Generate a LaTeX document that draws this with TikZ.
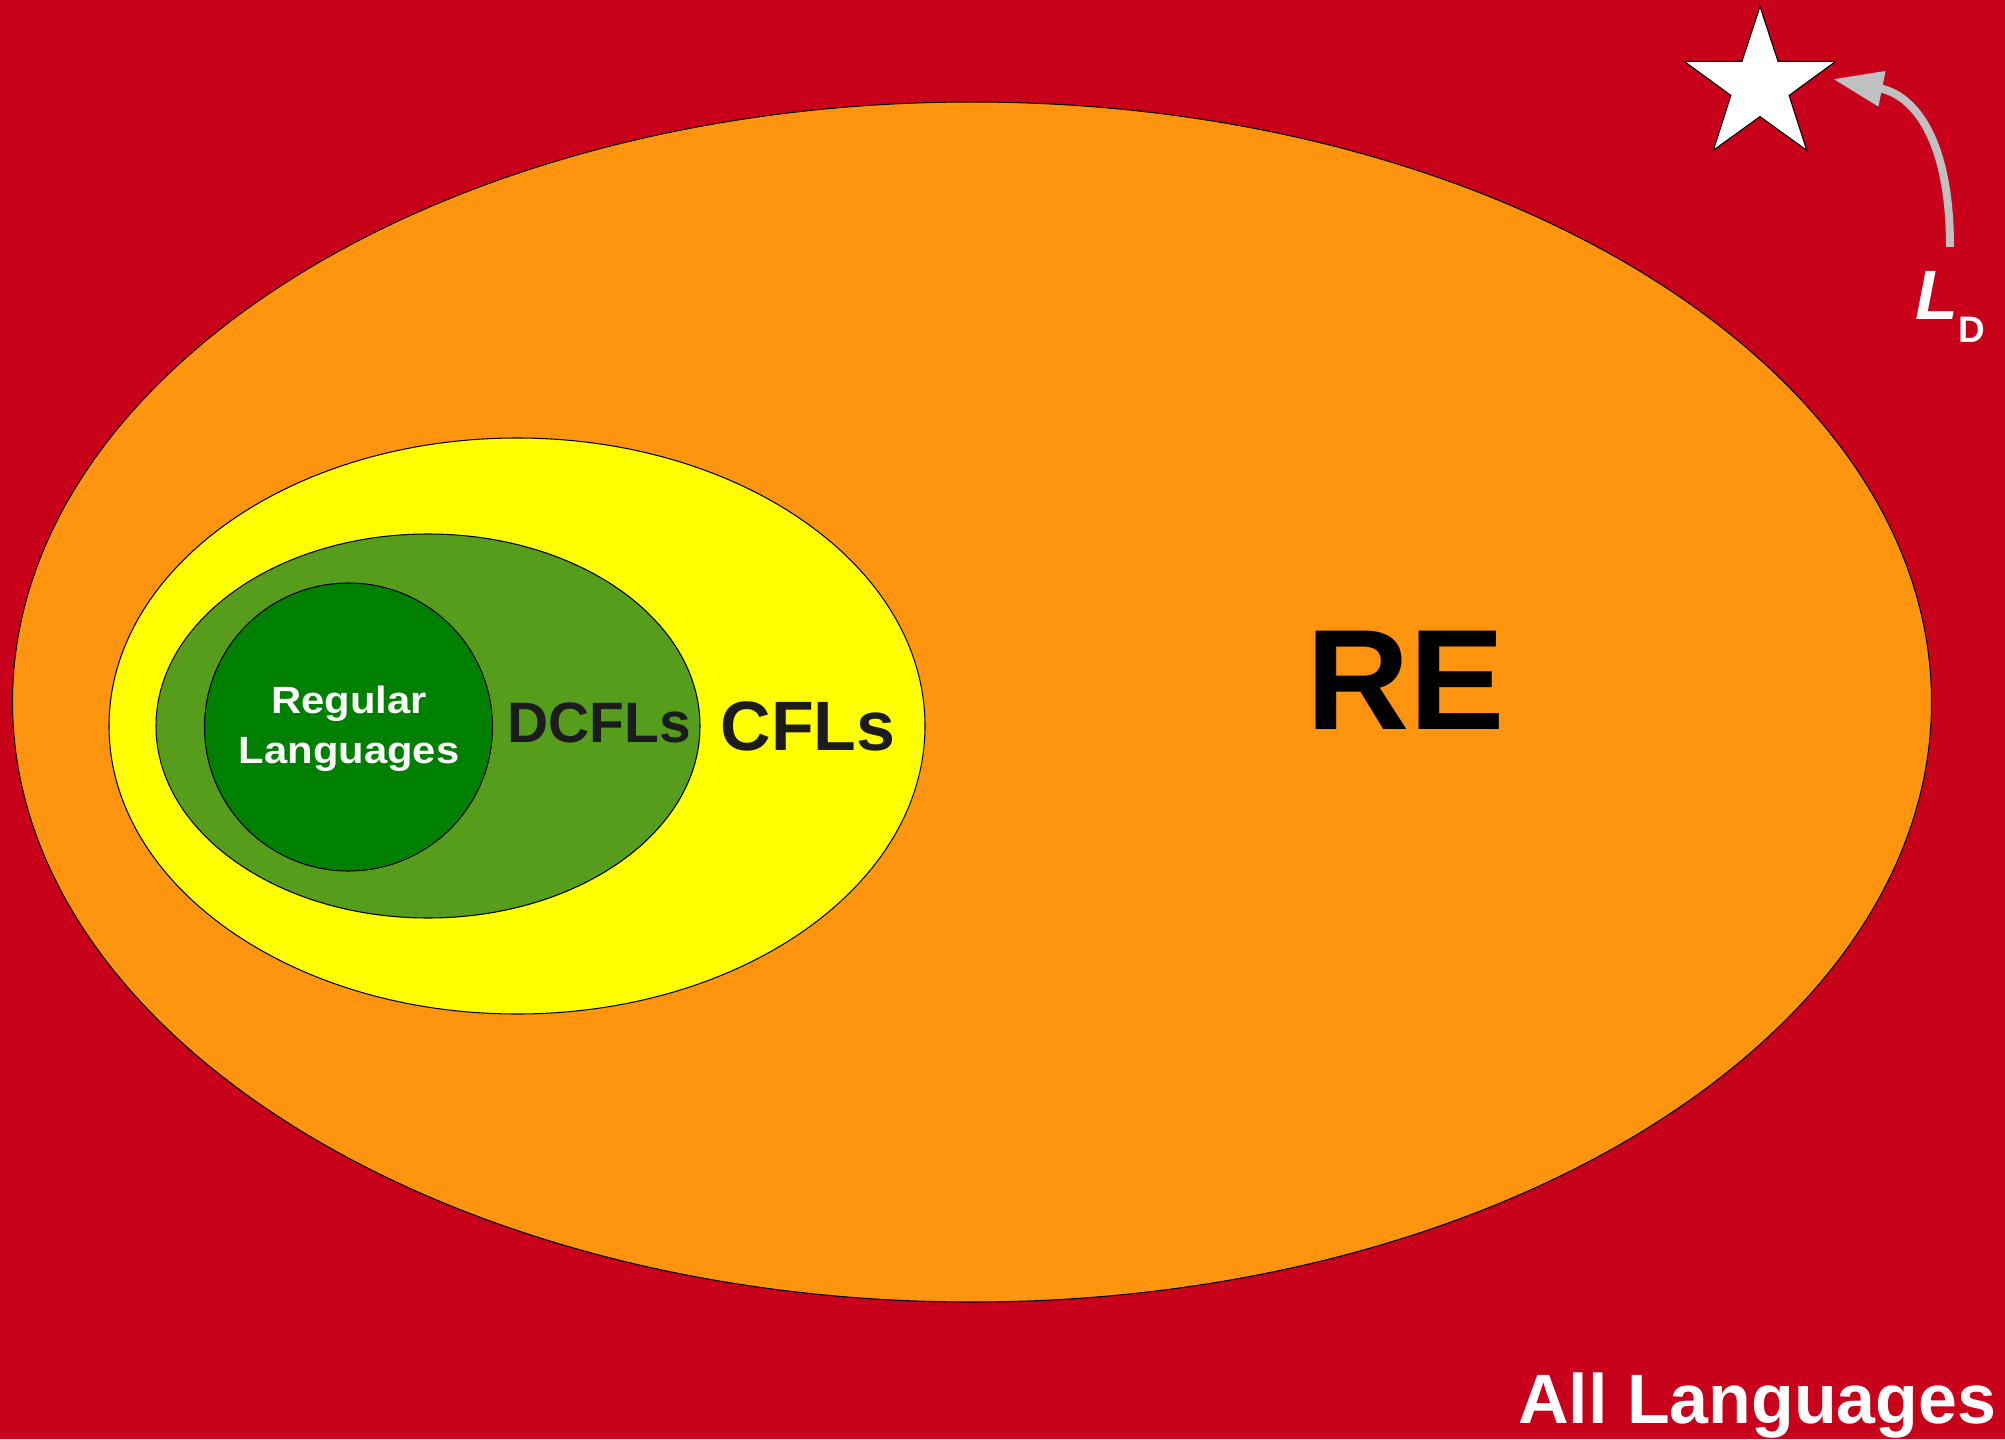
\documentclass[tikz,border=0pt]{standalone}
\usepackage{fontspec}
\setmainfont{Liberation Sans}
\newfontfamily\widefont[FakeStretch=1.1]{Liberation Sans}
\usetikzlibrary{arrows.meta,shapes.geometric}

\definecolor{allred}{RGB}{200,0,26}
\definecolor{reorange}{RGB}{255,149,14}
\definecolor{cflyellow}{RGB}{255,255,0}
\definecolor{dcflgreen}{RGB}{87,157,28}
\definecolor{reggreen}{RGB}{0,128,0}
\definecolor{labelgray}{RGB}{28,28,28}
\definecolor{arrowgray}{RGB}{192,192,192}

\begin{document}
\begin{tikzpicture}[
  every node/.style={font=\bfseries, inner sep=0pt},
  region/.style={ellipse, draw=black, line width=0.3pt},
  arrow/.style={-{Triangle[length=5mm, width=3.4mm]}, line width=0.8mm, draw=arrowgray}
]

% ALL LANGUAGES
\fill[allred] (0,0) rectangle (20.05,14.39);
\useasboundingbox (0,0) rectangle (20.05,14.39);

% NESTED CLASSES
\node[region, fill=reorange, minimum width=19.19cm, minimum height=12cm] (re) at (9.72,7.37) {};
\node[region, fill=cflyellow, minimum width=8.16cm, minimum height=5.76cm] (cfl) at (5.17,7.13) {};
\node[region, fill=dcflgreen, minimum width=5.44cm, minimum height=3.84cm] (dcfl) at (4.28,7.13) {};
\node[circle, draw=black, line width=0.3pt, fill=reggreen, minimum size=2.88cm] (reg) at (3.485,7.12) {};

% LABELS
\node[anchor=base, text=black, font=\fontsize{40.7}{48}\selectfont\bfseries] (re_label) at (14.06,7.10) {RE};
\node[anchor=base, text=labelgray, font=\fontsize{19.9}{24}\selectfont\bfseries] (cfl_label) at (8.08,6.89) {CFLs};
\node[anchor=base, text=labelgray, font=\fontsize{16.2}{19}\selectfont\bfseries] (dcfl_label) at (5.99,6.97) {DCFLs};
\node[align=center, text=white, font=\widefont\fontsize{10.8}{14.2}\selectfont\bfseries] (reg_label) at (3.49,7.10) {Regular\\Languages};
\node[anchor=base east, text=white, font=\fontsize{19.9}{24}\selectfont\bfseries] (all_label) at (19.97,0.157) {All Languages};

% DIAGONAL LANGUAGE
\node[star, star points=5, star point ratio=2.6, draw=black, fill=white, line width=0.3pt, minimum size=1.59cm] (star) at (17.60,13.53) {};
\node[anchor=base west, text=white] (ld) at (19.15,11.19) {%
  {\fontsize{19.9}{24}\selectfont\itshape L}\raisebox{-2.2mm}{\fontsize{10.5}{12}\selectfont D}};

\coordinate (ld_start) at (19.50,11.92);
\coordinate (ld_tip) at (18.33,13.60);
\draw[arrow] (ld_start) .. controls +(0,1.1) and +(0.8,-0.16) .. (ld_tip);

\end{tikzpicture}
\end{document}
